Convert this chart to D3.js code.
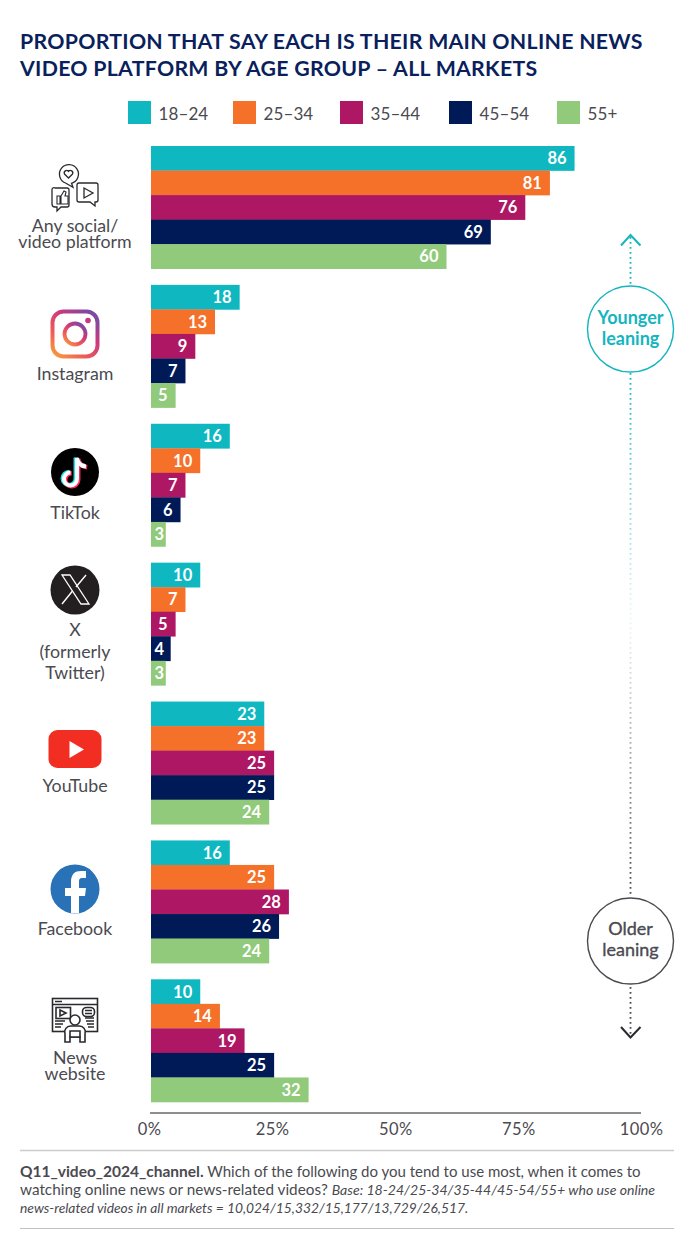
<!DOCTYPE html>
<html><head><meta charset="utf-8">
<script src="https://cdn.jsdelivr.net/npm/d3@7/dist/d3.min.js"></script>
<style>html,body{margin:0;padding:0;background:#fff}svg{display:block}text{font-family:Lato,"Noto Sans",sans-serif}</style>
</head><body><div id="c"></div>
<script>
const platforms=["Any social/video platform","Instagram","TikTok","X (formerly Twitter)","YouTube","Facebook","News website"];
const ageGroups=["18–24","25–34","35–44","45–54","55+"];
const colours=["#0fb8c1","#f5712a","#ad1763","#001a57","#90ca7a"];
const v1824=[86,18,16,10,23,16,10];
const v2534=[81,13,10,7,23,25,14];
const v3544=[76,9,7,5,25,28,19];
const v4554=[69,7,6,4,25,26,25];
const v55=[60,5,3,3,24,24,32];
const series=[v1824,v2534,v3544,v4554,v55];
const ticks=[0,25,50,75,100];
const platformLabels=[["Any social/","video platform"],["Instagram"],["TikTok"],["X","(formerly","Twitter)"],["YouTube"],["Facebook"],["News","website"]];
const titleLines=["PROPORTION THAT SAY EACH IS THEIR MAIN ONLINE NEWS","VIDEO PLATFORM BY AGE GROUP – ALL MARKETS"];
const W=698,H=1256,ink="#4a4a50";
const svg=d3.select("#c").append("svg").attr("width",W).attr("height",H);
const defs=svg.append("defs");
const x=d3.scaleLinear().domain([0,100]).range([151,643.5]);
const y0=d3.scaleBand().domain(platforms).range([146,1102]).paddingInner(0.1166).paddingOuter(0);
const y1=d3.scaleBand().domain(ageGroups).range([0,y0.bandwidth()]);

// title
svg.append("g").selectAll("text").data(titleLines).join("text")
 .attr("x",20).attr("y",(d,i)=>49+i*26.5).text(d=>d).attr("font-size",21.3).attr("font-weight",700).attr("fill","#0a1f5c").style("letter-spacing","0.28px");

// legend
const legX=d3.scaleOrdinal().domain(ageGroups).range([128,233,340,449,557]);
const leg=svg.append("g").selectAll("g").data(ageGroups).join("g").attr("transform",d=>`translate(${legX(d)},101)`);
leg.append("rect").attr("width",23).attr("height",23).attr("fill",(d,i)=>colours[i]);
leg.append("text").attr("x",30.5).attr("y",19).text(d=>d).attr("font-size",17).attr("fill",ink).style("letter-spacing","0.1px");

// bars
const groups=svg.append("g").selectAll("g").data(platforms).join("g").attr("transform",d=>`translate(0,${y0(d)})`);
groups.each(function(p,pi){
  const g=d3.select(this);
  ageGroups.forEach((a,ai)=>{
    const val=series[ai][pi];
    g.append("rect").attr("x",x(0)).attr("y",y1(a)).attr("width",x(val)-x(0)).attr("height",y1.bandwidth()+0.3).attr("fill",colours[ai]);
    g.append("text").attr("x",Math.max(x(val)-8,x(0)+13)).attr("y",y1(a)+y1.bandwidth()/2+6).attr("text-anchor","end").text(val)
     .attr("font-size",16.5).attr("font-weight",700).attr("fill","#fff");
  });
});

// axis
const ax=svg.append("g").attr("transform","translate(0,1113)").call(d3.axisBottom(x).tickValues(ticks).tickSize(0).tickFormat(d=>d+"%"));
ax.select(".domain").attr("stroke","#66686c").attr("stroke-width",1.3).attr("d","M150,0H641");
ax.selectAll("text").attr("font-size",16.5).attr("fill",ink).attr("dy",0).attr("y",21.5).attr("x",d=>d===100?-2.5:-2).style("font-family","Lato").style("letter-spacing","0.4px");

// category labels
const labelY=[[232,248],[380],[519],[636,658,679],[792],[935],[1064,1080]];
platforms.forEach((p,i)=>{
  const t=svg.append("text").attr("text-anchor","middle").attr("font-size",17.8).attr("fill",ink);
  platformLabels[i].forEach((s,j)=>t.append("tspan").attr("x",75).attr("y",labelY[i][j]).text(s));
});

// icons
const dark="#2a2a2e";
{const g=svg.append("g").attr("fill","none").attr("stroke",dark).attr("stroke-width",1.3);
 g.append("path").attr("d","M65.5,183 a9.5,9.5 0 1 1 6,0.3 l1.5,4 z");
 g.append("path").attr("d","M68.5,178 l-4,-4 a2.4,2.4 0 0 1 4,-2.6 a2.4,2.4 0 0 1 4,2.6 z");
 g.append("path").attr("d","M55,188 h12 a2,2 0 0 1 2,2 v15 a2,2 0 0 1 -2,2 h-6 l-4,4 v-4 h-2 a3,3 0 0 1 -3,-3 v-14 a2,2 0 0 1 3,-2 z");
 g.append("path").attr("d","M57,196h3v8h-3zM61,196l3,-5l2,1l-1,4h3v8h-7z").attr("stroke-width",1.1);
 g.append("path").attr("d","M79,183 h17 a2,2 0 0 1 2,2 v15 a2,2 0 0 1 -2,2 h-1 v4 l-5,-4 h-11 a2,2 0 0 1 -2,-2 v-15 a2,2 0 0 1 2,-2 z");
 g.append("path").attr("d","M84,188 l9,5 l-9,5 z");
}
{const lg=defs.append("linearGradient").attr("id","ig").attr("x1","0").attr("y1","1").attr("x2","0.8").attr("y2","0");
 [["0","#f9a03c"],["0.35","#ef5a58"],["0.7","#c8387f"],["1","#7a4aa5"]].forEach(s=>lg.append("stop").attr("offset",s[0]).attr("stop-color",s[1]));
 const g=svg.append("g").attr("fill","none").attr("stroke","url(#ig)");
 g.append("rect").attr("x",52.5).attr("y",311.5).attr("width",45).attr("height",45).attr("rx",11).attr("stroke-width",4);
 g.append("circle").attr("cx",75).attr("cy",334).attr("r",10.5).attr("stroke-width",3.8);
 svg.append("circle").attr("cx",88).attr("cy",320.5).attr("r",2.8).attr("fill","#c8387f");
}
{const g=svg.append("g");
 g.append("circle").attr("cx",75).attr("cy",472).attr("r",24).attr("fill","#000");
 const nd="M77,458 v21 a6.5,6.5 0 1 1 -6.5,-6.5 M77,458 c0.5,5 4,8 9,8.5";
 g.append("path").attr("d",nd).attr("fill","none").attr("stroke","#25e0e6").attr("stroke-width",4.5).attr("transform","translate(-1.2,-0.6)");
 g.append("path").attr("d",nd).attr("fill","none").attr("stroke","#fe2c55").attr("stroke-width",4.5).attr("transform","translate(1.2,0.8)");
 g.append("path").attr("d",nd).attr("fill","none").attr("stroke","#fff").attr("stroke-width",4);
}
{const g=svg.append("g");
 g.append("circle").attr("cx",75).attr("cy",590).attr("r",24.5).attr("fill","#231f20");
 g.append("path").attr("d","M62,575 h8 l19,29 h-8 z").attr("fill","none").attr("stroke","#fff").attr("stroke-width",1.3);
 g.append("path").attr("d","M86,575 l-10,12 M72.5,591 l-10.5,13").attr("fill","none").attr("stroke","#fff").attr("stroke-width",1.4);
}
{const g=svg.append("g");
 g.append("rect").attr("x",48.5).attr("y",730).attr("width",53).attr("height",38).attr("rx",9).attr("fill","#f22e22");
 g.append("path").attr("d","M69.5,741 L84,749.5 L69.5,758 z").attr("fill","#fff");
}
{const g=svg.append("g");
 g.append("circle").attr("cx",75).attr("cy",889).attr("r",24.5).attr("fill","#2a72b8");
 g.append("path").attr("d","M71,913.3 V896 H65 V888 H71 V882 C71,874 75,871 81,871 H86 V878 H82 C79.5,878 79,879.5 79,882 V888 H86 L85,896 H79 V913.3 Z").attr("fill","#fff");
}
{const g=svg.append("g").attr("fill","none").attr("stroke",dark).attr("stroke-width",1.6);
 g.append("rect").attr("x",52.5).attr("y",998.5).attr("width",45).attr("height",33);
 g.append("path").attr("d","M52.5,1004.5H97.5M55,1001.5h7").attr("stroke-width",1.5);
 g.append("rect").attr("x",56).attr("y",1007.5).attr("width",14.5).attr("height",11);
 g.append("path").attr("d","M60,1010l6,3l-6,3z");
 g.append("path").attr("d","M55,1021h10M55,1024h8M55,1027h6M85,1018h9M86,1021h8M87,1024h7M88,1027h6");
 g.append("rect").attr("x",82.5).attr("y",1007.5).attr("width",12).attr("height",9).attr("rx",4);
 g.append("path").attr("d","M85,1010.5h7M85,1013.5h7");
 g.append("circle").attr("cx",75).attr("cy",1020).attr("r",5).attr("fill","#fff");
 g.append("path").attr("d","M65,1042v-8a6,6 0 0 1 6,-8h8a6,6 0 0 1 6,8v8h-5v-5h-10v5z").attr("fill","#fff");
 g.append("path").attr("d","M70,1031h10v6h-10z").attr("fill","#fff");
}

// leaning arrows
const teal="#14b5c0",grey="#4a4a50";
const fadeT=defs.append("linearGradient").attr("id","fadeT").attr("gradientUnits","userSpaceOnUse").attr("x1",0).attr("y1",372).attr("x2",0).attr("y2",640);
fadeT.append("stop").attr("offset",0).attr("stop-color",teal);fadeT.append("stop").attr("offset",1).attr("stop-color",teal).attr("stop-opacity",0);
const fadeG=defs.append("linearGradient").attr("id","fadeG").attr("gradientUnits","userSpaceOnUse").attr("x1",0).attr("y1",610).attr("x2",0).attr("y2",898);
fadeG.append("stop").attr("offset",0).attr("stop-color",grey).attr("stop-opacity",0);fadeG.append("stop").attr("offset",1).attr("stop-color",grey);
function dots(y1,y2,c){svg.append("path").attr("d",`M630.5,${y1}V${y2+0.01}`).attr("stroke",c).attr("stroke-width",1.8).attr("stroke-dasharray","1.8 3.2").attr("fill","none");}
dots(237,286,teal);
svg.append("path").attr("d","M630.5,373V640").attr("stroke","url(#fadeT)").attr("stroke-width",1.8).attr("stroke-dasharray","1.8 3.2").attr("fill","none");
svg.append("path").attr("d","M630.5,612V897").attr("stroke","url(#fadeG)").attr("stroke-width",1.8).attr("stroke-dasharray","1.8 3.2").attr("fill","none");
dots(987,1034,grey);
svg.append("path").attr("d","M621,245.5L630.5,235L640.5,245.5").attr("fill","none").attr("stroke",teal).attr("stroke-width",2);
svg.append("path").attr("d","M621,1027L630.5,1037.5L640.5,1027").attr("fill","none").attr("stroke",dark).attr("stroke-width",2);
const bub=[{cy:329,c:teal,l:["Younger","leaning"],w:700,dy:-5},{cy:941,c:grey,l:["Older","leaning"],w:400,dy:-6}];
bub.forEach(b=>{
 svg.append("circle").attr("cx",630.5).attr("cy",b.cy).attr("r",43).attr("fill","#fff").attr("stroke",b.c).attr("stroke-width",1.4);
 const t=svg.append("text").attr("text-anchor","middle").attr("font-size",18).attr("font-weight",b.w).attr("fill",b.c).attr("stroke",b.w===400?b.c:"none").attr("stroke-width",0.35);
 b.l.forEach((s,i)=>t.append("tspan").attr("x",630.5).attr("y",b.cy+b.dy+i*21).text(s));
});

// footer
svg.append("path").attr("d","M20,1150.5H674").attr("stroke","#c9cccc").attr("stroke-width",1.3);
svg.append("path").attr("d","M20,1228.5H674").attr("stroke","#c0c0c0").attr("stroke-width",1.2);
const foot=svg.append("g").attr("fill",ink);
const t1=foot.append("text").attr("x",20).attr("y",1177).attr("font-size",15);
t1.append("tspan").attr("font-weight",700).attr("font-size",15.5).text("Q11_video_2024_channel.");
t1.append("tspan").text(" Which of the following do you tend to use most, when it comes to");
const t2=foot.append("text").attr("x",20).attr("y",1195).attr("font-size",15.3);
t2.append("tspan").text("watching online news or news-related videos? ");
t2.append("tspan").attr("font-style","italic").attr("font-size",14.1).text("Base: 18-24/25-34/35-44/45-54/55+ who use online");
foot.append("text").attr("x",20).attr("y",1212.5).attr("font-style","italic").attr("font-size",13.8).text("news-related videos in all markets = 10,024/15,332/15,177/13,729/26,517.");
</script></body></html>
